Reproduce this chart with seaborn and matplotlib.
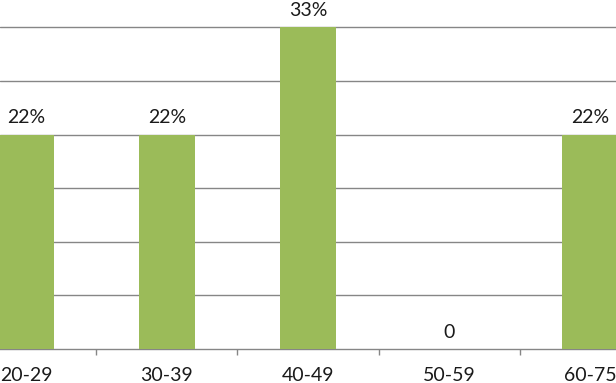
import matplotlib
matplotlib.use("Agg")
import matplotlib.pyplot as plt
import seaborn as sns
import pandas as pd

categories = ["20-29", "30-39", "40-49", "50-59", "60-75"]
counts = [2, 2, 3, 0, 2]
value_labels = ["22%", "22%", "33%", "0", "22%"]

sns.set_theme(style="white")
plt.rcParams['font.family'] = ['Lato', 'DejaVu Sans']

df = pd.DataFrame({"age": categories, "count": counts})

fig = plt.figure(figsize=(6.16, 3.83), dpi=100)
ax = fig.add_axes([0, 34/383, 1, 349/383])

sns.barplot(data=df, x="age", y="count", color="#9BBB59", saturation=1,
            width=0.4, linewidth=0, edgecolor="none", ax=ax, zorder=3)

ax.set_xlim(-0.184, 4.184)
ax.set_ylim(0, 3.255)
ax.set_yticks([0.5 * i for i in range(1, 7)])
ax.yaxis.grid(True, color="#868686", linewidth=1.0, zorder=0)
ax.set_axisbelow(True)
for s in ["top", "left", "right"]:
    ax.spines[s].set_visible(False)
ax.spines["bottom"].set_color("#868686")
ax.spines["bottom"].set_linewidth(1.0)
ax.set_xlabel("")
ax.set_ylabel("")
ax.tick_params(axis="y", left=False, labelleft=False)
ax.tick_params(axis="x", which="major", length=0, pad=13, labelsize=14, labelcolor="#1a1a1a")
ax.set_xticks([0.5, 1.5, 2.5, 3.5], minor=True)
ax.tick_params(axis="x", which="minor", direction="out", length=4, width=1, color="#868686", bottom=True)

for i, (c, lab) in enumerate(zip(counts, value_labels)):
    ax.annotate(lab, (i, c), xytext=(0, 6), textcoords="offset points",
                ha="center", va="bottom", fontsize=14, color="#1a1a1a")

fig.savefig("out.png", dpi=100)
